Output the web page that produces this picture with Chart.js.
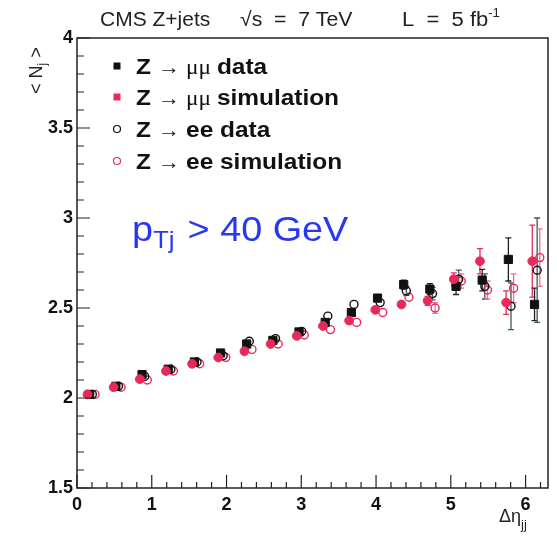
<!DOCTYPE html>
<html>
<head>
<meta charset="utf-8">
<script src="https://cdn.jsdelivr.net/npm/chart.js@4.4.1/dist/chart.umd.min.js"></script>
<style>
  body { margin: 0; background: #fff; }
  canvas { display: block; }
</style>
</head>
<body>
<canvas id="nJetsChart" width="557" height="538"></canvas>
<script>
// Mean jet multiplicity vs delta eta between the two leading jets (bin width 0.35)
const binCenters = [0.175, 0.525, 0.875, 1.225, 1.575, 1.925, 2.275, 2.625, 2.975,
                    3.325, 3.675, 4.025, 4.375, 4.725, 5.075, 5.425, 5.775, 6.125];

const mumuData    = [2.02, 2.065, 2.13, 2.16, 2.20, 2.25, 2.30, 2.32, 2.367,
                     2.42, 2.475, 2.555, 2.63, 2.605, 2.62, 2.655, 2.77, 2.52];
const mumuDataErr = [0.004, 0.004, 0.005, 0.005, 0.006, 0.006, 0.007, 0.008, 0.009,
                     0.01, 0.015, 0.02, 0.025, 0.03, 0.045, 0.06, 0.12, 0.09];

const mumuSim     = [2.02, 2.06, 2.105, 2.15, 2.19, 2.225, 2.26, 2.30, 2.345,
                     2.40, 2.43, 2.49, 2.52, 2.54, 2.66, 2.76, 2.53, 2.76];
const mumuSimErr  = [0.004, 0.004, 0.005, 0.005, 0.005, 0.006, 0.006, 0.007, 0.008,
                     0.009, 0.01, 0.015, 0.02, 0.025, 0.035, 0.07, 0.065, 0.2];

const eeData      = [2.02, 2.065, 2.12, 2.16, 2.20, 2.235, 2.315, 2.33, 2.37,
                     2.455, 2.52, 2.53, 2.595, 2.58, 2.66, 2.62, 2.51, 2.71];
const eeDataErr   = [0.004, 0.004, 0.005, 0.005, 0.006, 0.006, 0.007, 0.008, 0.009,
                     0.012, 0.015, 0.02, 0.025, 0.035, 0.05, 0.07, 0.13, 0.29];

const eeSim       = [2.02, 2.06, 2.10, 2.15, 2.19, 2.225, 2.27, 2.30, 2.35,
                     2.38, 2.42, 2.475, 2.56, 2.50, 2.65, 2.60, 2.61, 2.78];
const eeSimErr    = [0.004, 0.004, 0.005, 0.005, 0.005, 0.006, 0.006, 0.007, 0.008,
                     0.009, 0.01, 0.015, 0.02, 0.03, 0.04, 0.05, 0.08, 0.16];

const xTickValues = [0, 1, 2, 3, 4, 5, 6];
const yTickValues = [1.5, 2, 2.5, 3, 3.5, 4];

const RED = '#e8295c';
const SANS = '"Liberation Sans", Arial, sans-serif';
const SERIF = '"Liberation Serif", "Times New Roman", serif';

// the four samples are drawn slightly apart inside each bin
function makePoints(values, errors, shift) {
    return binCenters.map((c, i) => ({ x: c + shift, y: values[i], err: errors[i] }));
}

// draws text pieces one after another on one baseline, optionally stretched sideways
function drawRuns(ctx, x, y, runs, sx = 1) {
    runs.forEach(r => {
        ctx.font = r.font;
        ctx.save();
        ctx.translate(x, y + (r.dy || 0));
        ctx.scale(sx, 1);
        ctx.fillText(r.text, 0, 0);
        ctx.restore();
        x += (ctx.measureText(r.text).width + (r.gap || 0)) * sx;
    });
    return x;
}

const errorBars = {
    id: 'errorBars',
    beforeDatasetsDraw(chart) {
        const ctx = chart.ctx, xs = chart.scales.x, ys = chart.scales.y;
        chart.data.datasets.forEach(ds => {
            ctx.save();
            ctx.strokeStyle = ds.errColor;
            ctx.lineWidth = 1.3;
            ds.data.forEach(p => {
                const px = xs.getPixelForValue(p.x);
                const top = ys.getPixelForValue(p.y + p.err);
                const bot = ys.getPixelForValue(p.y - p.err);
                if (bot - top < 8) return;
                ctx.beginPath();
                ctx.moveTo(px, top); ctx.lineTo(px, bot);
                ctx.moveTo(px - 3, top); ctx.lineTo(px + 3, top);
                ctx.moveTo(px - 3, bot); ctx.lineTo(px + 3, bot);
                ctx.stroke();
            });
            ctx.restore();
        });
    }
};

const frameAndText = {
    id: 'frameAndText',
    afterDraw(chart) {
        const ctx = chart.ctx, a = chart.chartArea;
        const xs = chart.scales.x, ys = chart.scales.y;
        ctx.save();

        // frame
        ctx.strokeStyle = '#222';
        ctx.lineWidth = 1.5;
        ctx.strokeRect(a.left, a.top, a.right - a.left, a.bottom - a.top);

        // ticks pointing into the frame
        ctx.lineWidth = 1.2;
        ctx.beginPath();
        for (let v = 0; v <= 6.3001; v += 0.2) {
            const px = xs.getPixelForValue(v);
            const major = Math.abs(v - Math.round(v)) < 1e-6;
            ctx.moveTo(px, a.bottom);
            ctx.lineTo(px, a.bottom - (major ? 13 : 6));
        }
        for (let v = 1.5; v <= 4.0001; v += 0.1) {
            const py = ys.getPixelForValue(v);
            const major = Math.abs(v * 2 - Math.round(v * 2)) < 1e-6;
            ctx.moveTo(a.left, py);
            ctx.lineTo(a.left + (major ? 13 : 7), py);
        }
        ctx.stroke();

        ctx.fillStyle = '#222';
        ctx.textBaseline = 'alphabetic';
        ctx.textAlign = 'left';

        // header
        const head = '20px ' + SANS;
        drawRuns(ctx, 100, 26, [{ text: 'CMS Z+jets', font: head }], 1.05);
        drawRuns(ctx, 240, 26, [{ text: '\u221As  =  7 TeV', font: head }], 1.06);
        drawRuns(ctx, 402, 26, [
            { text: 'L  =  5 fb', font: head },
            { text: '-1', font: '12px ' + SANS, dy: -9 }
        ], 1.1);

        // y axis title, reading upwards
        ctx.save();
        ctx.translate(42, 94);
        ctx.rotate(-Math.PI / 2);
        drawRuns(ctx, 0, 0, [
            { text: '< N', font: '18px ' + SANS },
            { text: 'j', font: '12px ' + SANS, dy: 4 },
            { text: ' >', font: '18px ' + SANS }
        ]);
        ctx.restore();

        // x axis title
        drawRuns(ctx, 499, 522, [
            { text: '\u0394\u03B7', font: '18px ' + SANS },
            { text: 'jj', font: '13px ' + SANS, dy: 7 }
        ]);

        // legend
        const bold = 'bold 22px ' + SANS;
        const plain = '20px ' + SANS;
        const greek = '21px ' + SERIF;
        const rows = [
            { y: 66, name: 'data', marker: 'square', color: '#111', mu: true },
            { y: 97, name: 'simulation', marker: 'square', color: RED, mu: true },
            { y: 129, name: 'data', marker: 'ring', color: '#111', mu: false },
            { y: 161, name: 'simulation', marker: 'ring', color: RED, mu: false }
        ];
        rows.forEach(r => {
            const mx = 117;
            if (r.marker === 'square') {
                ctx.fillStyle = r.color;
                ctx.fillRect(mx - 3.5, r.y - 3.5, 7, 7);
            } else {
                ctx.strokeStyle = r.color;
                ctx.lineWidth = 1.2;
                ctx.beginPath();
                ctx.arc(mx, r.y, 3.5, 0, Math.PI * 2);
                ctx.stroke();
            }
            ctx.fillStyle = '#111';
            drawRuns(ctx, 136, r.y + 8, [
                { text: 'Z ', font: bold },
                { text: '\u2192 ', font: plain },
                r.mu ? { text: '\u03BC\u03BC ', font: greek } : { text: 'ee ', font: bold },
                { text: r.name, font: bold }
            ], 1.11);
        });

        // jet threshold
        ctx.fillStyle = '#2838f2';
        drawRuns(ctx, 132, 241, [
            { text: 'p', font: '35px ' + SANS },
            { text: 'Tj', font: '24px ' + SANS, dy: 7, gap: 12 },
            { text: '> 40 GeV', font: '35px ' + SANS }
        ], 1.08);

        ctx.restore();
    }
};

const ctx = document.getElementById('nJetsChart').getContext('2d');

new Chart(ctx, {
    type: 'scatter',
    data: {
        datasets: [
            {
                label: 'Z \u2192 \u03BC\u03BC simulation',
                data: makePoints(mumuSim, mumuSimErr, -0.035),
                pointStyle: 'circle', pointRadius: 4.4,
                backgroundColor: RED, borderColor: RED, borderWidth: 1,
                errColor: RED
            },
            {
                label: 'Z \u2192 \u03BC\u03BC data',
                data: makePoints(mumuData, mumuDataErr, -0.005),
                pointStyle: 'rect', pointRadius: 5.8,
                backgroundColor: '#111', borderColor: '#111', borderWidth: 1,
                errColor: '#222'
            },
            {
                label: 'Z \u2192 ee data',
                data: makePoints(eeData, eeDataErr, 0.03),
                pointStyle: 'circle', pointRadius: 4,
                backgroundColor: 'rgba(0,0,0,0)', borderColor: '#111', borderWidth: 1.4,
                errColor: '#3c5a55'
            },
            {
                label: 'Z \u2192 ee simulation',
                data: makePoints(eeSim, eeSimErr, 0.065),
                pointStyle: 'circle', pointRadius: 4,
                backgroundColor: 'rgba(0,0,0,0)', borderColor: RED, borderWidth: 1.4,
                errColor: '#f07090'
            }
        ]
    },
    options: {
        responsive: false,
        animation: false,
        layout: { padding: { top: 38, right: 9, left: 0, bottom: 0 } },
        plugins: {
            legend: { display: false },
            tooltip: { enabled: false }
        },
        scales: {
            x: {
                type: 'linear',
                min: 0,
                max: 6.3,
                afterFit: scale => { scale.height = 50; },
                afterBuildTicks: scale => { scale.ticks = xTickValues.map(v => ({ value: v })); },
                grid: { display: false, drawTicks: false },
                border: { display: false },
                ticks: {
                    padding: 6,
                    color: '#111',
                    maxRotation: 0,
                    font: { family: SANS, size: 18, weight: 'bold' }
                }
            },
            y: {
                type: 'linear',
                min: 1.5,
                max: 4,
                afterFit: scale => { scale.width = 77; },
                afterBuildTicks: scale => { scale.ticks = yTickValues.map(v => ({ value: v })); },
                grid: { display: false, drawTicks: false },
                border: { display: false },
                ticks: {
                    padding: 4,
                    color: '#111',
                    font: { family: SANS, size: 18, weight: 'bold' },
                    callback: v => String(v)
                }
            }
        }
    },
    plugins: [errorBars, frameAndText]
});
</script>
</body>
</html>
